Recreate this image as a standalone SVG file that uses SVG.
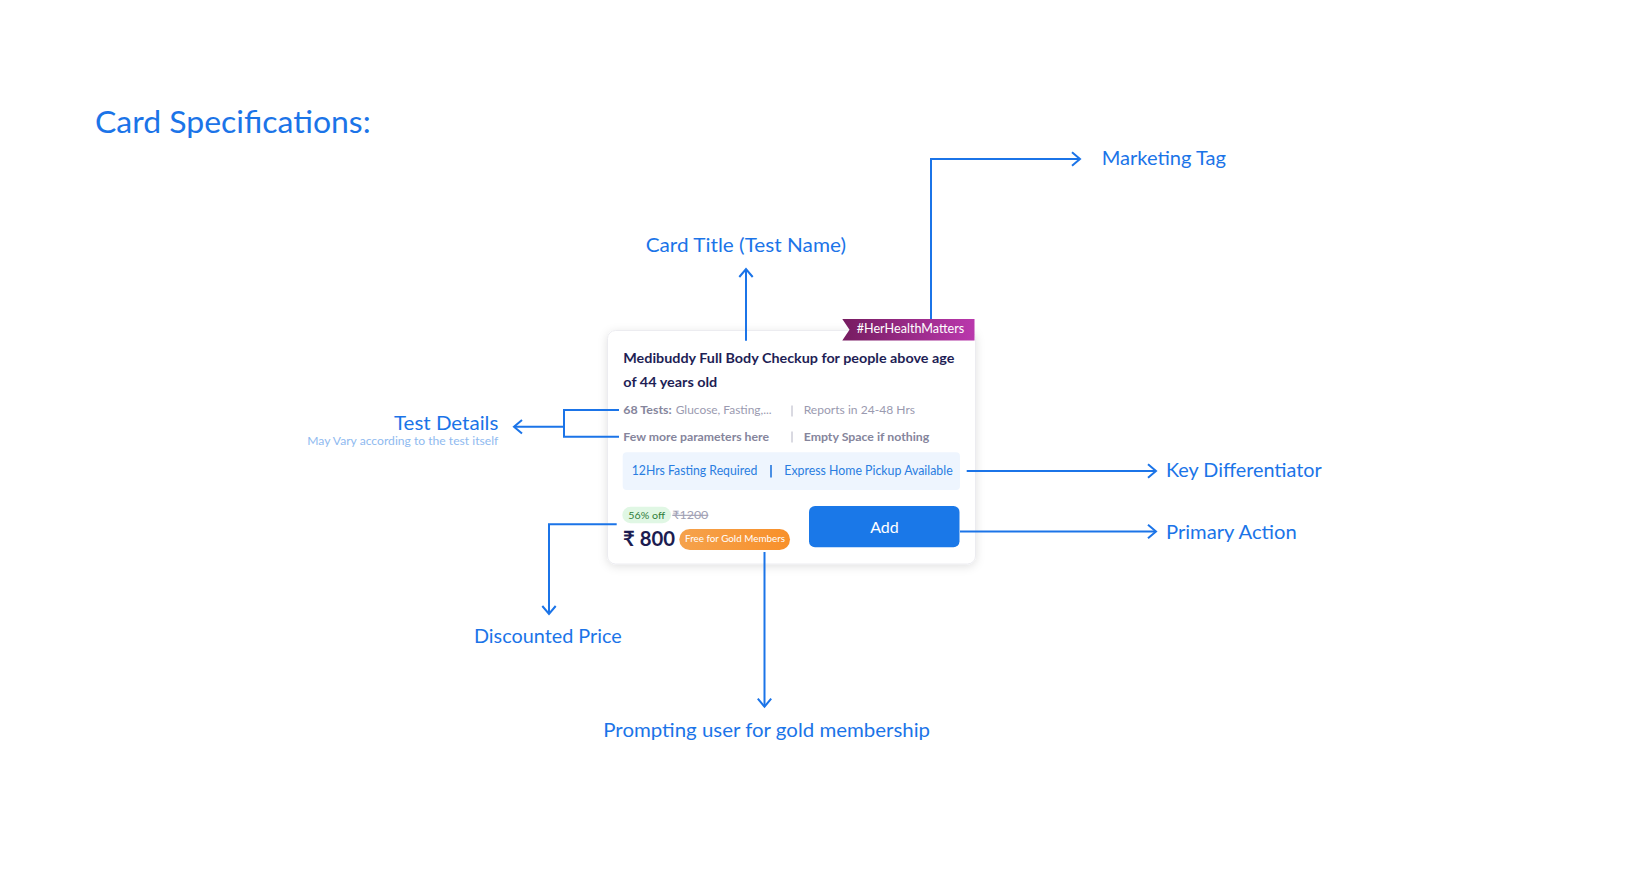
<svg xmlns="http://www.w3.org/2000/svg" width="1630" height="888" viewBox="0 0 1630 888">
<style>
text{font-family:"Lato","Noto Sans","DejaVu Sans",sans-serif;}
.lbl{fill:#1b74e8;font-size:20px;}
.conn{fill:none;stroke:#1b74e8;stroke-width:2;}
.grey{fill:#9a9ab0;font-size:12px;}
.greyb{fill:#85859c;font-size:12px;font-weight:700;}
.sep{stroke:#b4b4c4;stroke-width:1;}
.kd{fill:#2a7de1;font-size:12.5px;}
</style>
<defs>
<marker id="arr" markerUnits="userSpaceOnUse" viewBox="-10 -10 20 20" refX="0" refY="0" markerWidth="20" markerHeight="20" orient="auto">
<path d="M-8,-6.7 L0,0 L-8,6.7" fill="none" stroke="#1b74e8" stroke-width="2"/>
</marker>
<linearGradient id="tagG" x1="0" y1="0" x2="1" y2="0">
<stop offset="0" stop-color="#761c60"/>
<stop offset="1" stop-color="#ba38ad"/>
</linearGradient>
<linearGradient id="goldG" x1="0" y1="0" x2="1" y2="0">
<stop offset="0" stop-color="#f5a24c"/>
<stop offset="1" stop-color="#f8902a"/>
</linearGradient>
<filter id="shadow" x="-10%" y="-10%" width="120%" height="130%">
<feDropShadow dx="0" dy="2" stdDeviation="5" flood-color="#000" flood-opacity="0.12"/>
</filter>
</defs>
<rect width="1630" height="888" fill="#ffffff"/>

<text id="heading" x="95" y="133.3" font-size="31" fill="#1b74e8" textLength="275.7" lengthAdjust="spacingAndGlyphs">Card Specifications:</text>

<g id="card">
<rect x="607.5" y="330.5" width="368" height="233.5" rx="8" fill="#ffffff" stroke="#ececf0" stroke-width="1" filter="url(#shadow)"/>
<text x="623.3" y="363.3" font-size="14" font-weight="700" fill="#1e1e55" textLength="331" lengthAdjust="spacingAndGlyphs">Medibuddy Full Body Checkup for people above age</text>
<text x="623.3" y="387.3" font-size="14" font-weight="700" fill="#1e1e55" textLength="94" lengthAdjust="spacingAndGlyphs">of 44 years old</text>
<text class="greyb" x="623.3" y="414.3" textLength="48.4" lengthAdjust="spacingAndGlyphs">68 Tests:</text>
<text class="grey" x="675.7" y="414.3" textLength="96" lengthAdjust="spacingAndGlyphs">Glucose, Fasting,...</text>
<line class="sep" x1="792" y1="405.5" x2="792" y2="416.5"/>
<text class="grey" x="803.7" y="414.3" textLength="111.3" lengthAdjust="spacingAndGlyphs">Reports in 24-48 Hrs</text>
<text class="greyb" x="623.3" y="440.7" textLength="145.7" lengthAdjust="spacingAndGlyphs">Few more parameters here</text>
<line class="sep" x1="792" y1="431.5" x2="792" y2="442.5"/>
<text class="greyb" x="803.7" y="440.7" textLength="125.6" lengthAdjust="spacingAndGlyphs">Empty Space if nothing</text>
<rect x="622.7" y="452.3" width="337.3" height="37.7" rx="4" fill="#eef5fe"/>
<text class="kd" x="631.7" y="475" textLength="125.6" lengthAdjust="spacingAndGlyphs">12Hrs Fasting Required</text>
<line x1="771" y1="465" x2="771" y2="477.5" stroke="#4a8fe4" stroke-width="2"/>
<text class="kd" x="784.3" y="475" textLength="168.4" lengthAdjust="spacingAndGlyphs">Express Home Pickup Available</text>
<rect x="622.3" y="506.7" width="48.7" height="16.6" rx="8.3" fill="#e0f7e4"/>
<text x="628.3" y="519" font-size="10" fill="#2e7d3a" textLength="36.7" lengthAdjust="spacingAndGlyphs">56% off</text>
<text x="672.3" y="519" font-size="11.5" fill="#a0a0b4" text-decoration="line-through" textLength="36" lengthAdjust="spacingAndGlyphs">₹1200</text>
<text x="623" y="545.7" font-size="21" font-weight="700" fill="#1c1c50" textLength="52" lengthAdjust="spacingAndGlyphs">₹ 800</text>
<rect x="679.3" y="529" width="110.7" height="21" rx="10.5" fill="url(#goldG)"/>
<text x="685" y="542.3" font-size="10" fill="#ffffff" textLength="100" lengthAdjust="spacingAndGlyphs">Free for Gold Members</text>
<rect x="809" y="506" width="150.5" height="41.3" rx="6" fill="#1a78e8"/>
<text x="884.5" y="532.7" font-size="16" fill="#ffffff" text-anchor="middle">Add</text>
</g>

<g id="marketing-tag-badge">
<polygon points="842.3,319 974.5,319 974.5,340.5 842.3,340.5 849.5,329.7" fill="url(#tagG)"/>
<text x="856.7" y="333" font-size="13" fill="#ffffff" textLength="107.6" lengthAdjust="spacingAndGlyphs">#HerHealthMatters</text>
</g>

<g id="connectors">
<path class="conn" d="M746,340.7 V269" marker-end="url(#arr)"/>
<path class="conn" d="M931,319 V159 H1080" marker-end="url(#arr)"/>
<path class="conn" d="M619,410 H564 V436.7 H619"/>
<path class="conn" d="M564,426.7 H514" marker-end="url(#arr)"/>
<path class="conn" d="M966.7,471 H1156" marker-end="url(#arr)"/>
<path class="conn" d="M960,531.5 H1156" marker-end="url(#arr)"/>
<path class="conn" d="M616.7,524.3 H549 V614" marker-end="url(#arr)"/>
<path class="conn" d="M764.5,552 V706.7" marker-end="url(#arr)"/>
</g>

<g id="label-card-title"><text class="lbl" x="645.7" y="252.3" textLength="200.3" lengthAdjust="spacingAndGlyphs">Card Title (Test Name)</text></g>
<g id="label-marketing-tag"><text class="lbl" x="1101.7" y="165" textLength="124.3" lengthAdjust="spacingAndGlyphs">Marketing Tag</text></g>
<g id="label-test-details">
<text class="lbl" x="394" y="430" textLength="104.3" lengthAdjust="spacingAndGlyphs">Test Details</text>
<text x="307.3" y="445" font-size="11" fill="#8fbaf0" textLength="191" lengthAdjust="spacingAndGlyphs">May Vary according to the test itself</text>
</g>
<g id="label-key-differentiator"><text class="lbl" x="1166" y="476.7" textLength="155.7" lengthAdjust="spacingAndGlyphs">Key Differentiator</text></g>
<g id="label-primary-action"><text class="lbl" x="1166" y="539" textLength="130.7" lengthAdjust="spacingAndGlyphs">Primary Action</text></g>
<g id="label-discounted-price"><text class="lbl" x="474" y="643.3" textLength="147.7" lengthAdjust="spacingAndGlyphs">Discounted Price</text></g>
<g id="label-gold-membership"><text class="lbl" x="603.3" y="736.7" textLength="326.7" lengthAdjust="spacingAndGlyphs">Prompting user for gold membership</text></g>
</svg>
